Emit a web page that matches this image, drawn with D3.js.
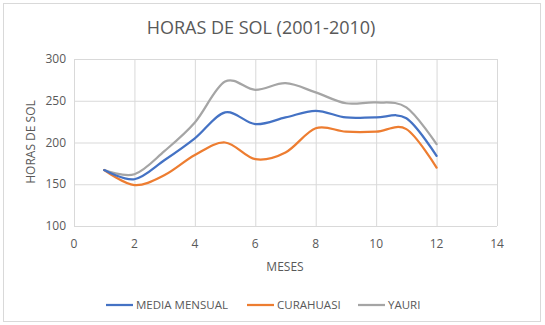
<!DOCTYPE html>
<html lang="es">
<head>
  <meta charset="UTF-8">
  <title>Horas de sol</title>
  <script src="https://cdn.jsdelivr.net/npm/d3@7"></script>
  <style type="text/css">
    body { margin: 0; background: white; }
    svg { display: block; }
    text { font-family: "Open Sans", "Liberation Sans", sans-serif; fill: #595959; }
  </style>
</head>
<body>
<svg id="chart" width="545" height="325"></svg>
<script>

  // data
  const months = [1, 2, 3, 4, 5, 6, 7, 8, 9, 10, 11, 12];
  const media = [167, 156, 179, 205, 236, 222, 230, 238, 230, 230, 229, 184];
  const curahuasi = [167, 149, 161, 185, 200, 180, 188, 217, 213, 213, 216, 170];
  const yauri = [167, 162, 190, 224, 273, 263, 271, 260, 247, 248, 242, 198];
  const xTicks = [0, 2, 4, 6, 8, 10, 12, 14];
  const yTicks = [100, 150, 200, 250, 300];

  const series = [
    {name: 'MEDIA MENSUAL', values: media, color: '#4472c4'},
    {name: 'CURAHUASI', values: curahuasi, color: '#ed7d31'},
    {name: 'YAURI', values: yauri, color: '#a5a5a5'}
  ];

  const svg = d3.select('#chart');
  const plotL = 74, plotR = 497, plotT = 59, plotB = 226;

  const x = d3.scaleLinear().domain([0, 14]).range([plotL, plotR]);
  const y = d3.scaleLinear().domain([100, 300]).range([plotB, plotT]);

  // chart border
  svg.append('rect').attr('x', 3.5).attr('y', 3.5).attr('width', 537).attr('height', 318)
    .attr('fill', 'white').attr('stroke', '#d9d9d9');

  svg.append('text').attr('x', 261).attr('y', 34).attr('text-anchor', 'middle')
    .style('font-size', '18px').text('HORAS DE SOL (2001-2010)');

  // grid
  svg.append('g').selectAll('line').data(yTicks).join('line')
    .attr('x1', plotL).attr('x2', plotR).attr('y1', d => y(d) + 0.5).attr('y2', d => y(d) + 0.5)
    .attr('stroke', '#d9d9d9');
  svg.append('g').selectAll('line').data(xTicks).join('line')
    .attr('x1', d => x(d) + 0.5).attr('x2', d => x(d) + 0.5).attr('y1', plotT).attr('y2', plotB)
    .attr('stroke', '#d9d9d9');

  // tick labels
  svg.append('g').selectAll('text').data(yTicks).join('text')
    .attr('x', plotL - 8).attr('y', d => y(d) + 4).attr('text-anchor', 'end')
    .style('font-size', '12px').text(d => d);
  svg.append('g').selectAll('text').data(xTicks).join('text')
    .attr('x', d => x(d)).attr('y', 248).attr('text-anchor', 'middle')
    .style('font-size', '12px').text(d => d);

  svg.append('text').attr('x', 285).attr('y', 271).attr('text-anchor', 'middle')
    .style('font-size', '12px').text('MESES');
  svg.append('text').attr('transform', 'translate(35,142) rotate(-90)').attr('text-anchor', 'middle')
    .style('font-size', '12px').text('HORAS DE SOL');

  // lines
  const line = d3.line()
    .x((d, i) => x(months[i]))
    .y(d => y(d))
    .curve(d3.curveCardinal.tension(0));

  svg.append('g').selectAll('path').data(series.slice().reverse()).join('path')
    .attr('d', d => line(d.values))
    .attr('fill', 'none')
    .attr('stroke', d => d.color)
    .attr('stroke-width', 2.25)
    .attr('stroke-linecap', 'round');

  // legend
  const legendX = [106, 247, 358];
  const lg = svg.append('g').selectAll('g').data(series).join('g')
    .attr('transform', (d, i) => 'translate(' + legendX[i] + ',305)');
  lg.append('line').attr('x1', 0).attr('x2', 27).attr('y1', 0).attr('y2', 0)
    .attr('stroke', d => d.color).attr('stroke-width', 2.25);
  lg.append('text').attr('x', 30).attr('y', 4).style('font-size', '11.5px').text(d => d.name);

</script>
</body>
</html>
